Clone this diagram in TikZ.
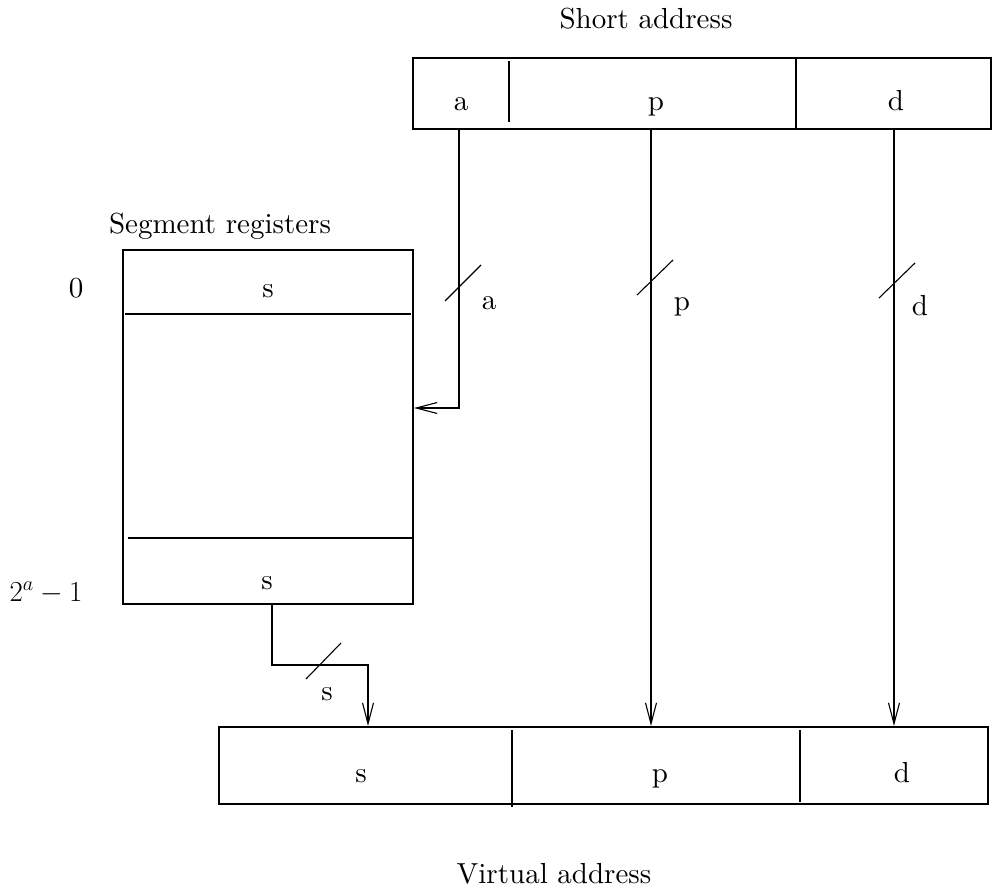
\RequirePackage{fix-cm}
\documentclass[tikz,border=0pt]{standalone}
\usepackage{fontspec}
\setmainfont{lmroman10-regular.otf}
\usetikzlibrary{arrows.meta}

\tikzset{
  wire/.style={line width=1.1pt},
  flow/.style={wire, -{Straight Barb[length=21pt,width=11pt,line width=1.1pt]}},
  fieldbox/.style={draw, line width=1.1pt, inner sep=0pt, rectangle},
  lbl/.style={font=\fontsize{29}{35}\selectfont, inner sep=0pt, anchor=base},
}

\begin{document}
\begin{tikzpicture}[x=1pt, y=-1pt]
  \useasboundingbox (0,0) rectangle (993,889);

  % short address word
  \node[lbl] (shorttitle) at (646,28) {Short address};
  \node[fieldbox, minimum width=578pt, minimum height=71pt] (short) at (702,93.5) {};
  \draw[wire] (509,61) -- (509,122);
  \draw[wire] (796,58) -- (796,129);
  \node[lbl] (sa) at (461,110) {a};
  \node[lbl] (sp) at (656,110) {p};
  \node[lbl] (sd) at (896,110) {d};

  % segment register file
  \node[lbl] (segtitle) at (220,233) {Segment registers};
  \node[fieldbox, minimum width=290pt, minimum height=354pt] (seg) at (268,427) {};
  \draw[wire] (125,314) -- (411,314);
  \draw[wire] (128,538) -- (413,538);
  \node[lbl] (sfirst) at (268,297) {s};
  \node[lbl] (slast) at (267,589) {s};
  \node[lbl] (idx0) at (76,297) {0};
  \node[lbl] (idxn) at (46,601) {$2^a - 1$};

  % virtual address word
  \node[fieldbox, minimum width=769pt, minimum height=77pt] (virt) at (603.5,765.5) {};
  \draw[wire] (512,730) -- (512,807);
  \draw[wire] (800,730) -- (800,802);
  \node[lbl] (vs) at (361,782) {s};
  \node[lbl] (vp) at (660,782) {p};
  \node[lbl] (vd) at (902,782) {d};
  \node[lbl] (virttitle) at (554,883) {Virtual address};

  % connector end points
  \coordinate (aout) at (459,129);
  \coordinate (ain) at (414,408);
  \coordinate (pout) at (651,129);
  \coordinate (pin) at (651,726);
  \coordinate (dout) at (894,129);
  \coordinate (din) at (894,726);
  \coordinate (sout) at (272,604);
  \coordinate (sbend) at (272,665);
  \coordinate (sin) at (368,726);

  % connectors
  \draw[flow] (aout) |- (ain);
  \draw[flow] (pout) -- (pin);
  \draw[flow] (dout) -- (din);
  \draw[flow] (sout) -- (sbend) -| (sin);

  % bus width marks
  \draw[wire] (445,301) -- (481,265);
  \node[lbl] (wa) at (489,309) {a};
  \draw[wire] (637,295) -- (673,260);
  \node[lbl] (wp) at (682,310) {p};
  \draw[wire] (879,298) -- (915,263);
  \node[lbl] (wd) at (920,315) {d};
  \draw[wire] (306,679) -- (341,643);
  \node[lbl] (ws) at (327,700) {s};
\end{tikzpicture}
\end{document}
